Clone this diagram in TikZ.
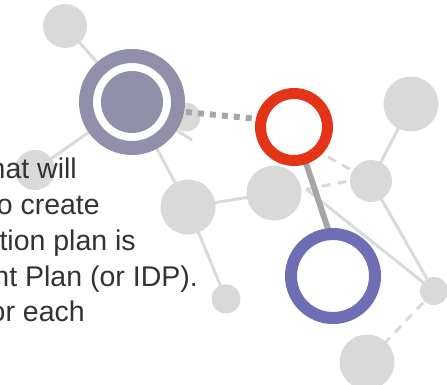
\documentclass[tikz,border=0pt]{standalone}
\usepackage{fontspec}
\setmainfont{Liberation Sans}
\pgfdeclarelayer{bg}
\pgfsetlayers{bg,main}
\definecolor{cgray}{HTML}{D9D9D9}
\definecolor{lgray}{HTML}{DADADA}
\definecolor{dgray}{HTML}{A6A6A6}
\definecolor{ringgray}{HTML}{9090AB}
\definecolor{ringred}{HTML}{E33417}
\definecolor{ringblue}{HTML}{6E6EB4}
\definecolor{txt}{HTML}{333333}
\begin{document}
\begin{tikzpicture}[x=1pt,y=-1pt,
  gc/.style={circle,fill=cgray,inner sep=0pt,minimum size=#1},
  thinline/.style={draw=lgray,line width=3pt},
  dashline/.style={draw=lgray,line width=3pt,dash pattern=on 9pt off 7pt},
  dotline/.style={draw=dgray,line width=6pt,dash pattern=on 6pt off 6pt},
  thickline/.style={draw=dgray,line width=6pt},
  ring/.style={circle,fill=white,inner sep=0pt,draw=#1},
  lbl/.style={anchor=base east,inner sep=0pt,text=txt,font=\fontsize{28.5}{34}\selectfont}]
\useasboundingbox (0,0) rectangle (447,384);
\clip (0,0) rectangle (447,384);
% gray nodes
\node[gc=44] (A) at (65,26) {};
\node[gc=40] (B) at (35,170) {};
\node[gc=55] (C) at (188,207) {};
\node[gc=29] (D) at (226,299) {};
\node[gc=55] (E) at (274,193) {};
\node[gc=55] (F) at (411,104) {};
\node[gc=42] (G) at (371,181) {};
\node[gc=28] (H) at (434,291) {};
\node[gc=55] (I) at (367,362) {};
\coordinate (P) at (306,189);
\coordinate (Q) at (192,140);
\coordinate (d1) at (186,112);
\coordinate (d2) at (258,119);
\coordinate (k1) at (305,160);
\coordinate (k2) at (329,232);
% rings
\node[ring=ringgray,line width=14pt,minimum size=92] (R1) at (132,102) {};
\node[circle,fill=ringgray,inner sep=0pt,minimum size=62] (R1c) at (R1) {};
\node[ring=ringred,line width=11pt,minimum size=67] (R2) at (294,127) {};
\node[ring=ringblue,line width=12pt,minimum size=84] (R3) at (333,276) {};
\begin{pgfonlayer}{bg}
  \draw[thinline] (A.center) -- (R1.center);
  \draw[thinline] (B.center) -- (R1.center);
  \draw[thinline] (R1.center) -- (C.center);
  \draw[thinline] (R1.center) -- (Q);
  \draw[thinline] (C.center) -- (D.center);
  \draw[thinline] (C.center) -- (E.center);
  \draw[thinline] (F.center) -- (G.center);
  \draw[thinline] (G.center) -- (H.center);
  \draw[thinline] (P) -- (H.center);
  \draw[dashline] (P) -- (G.west);
  \draw[dashline] (R2.center) ++(34,30) -- (G.center);
  \draw[dashline] (H.center) -- (I.center);
  \node[gc=29] (S) at (186,117) {};
  \draw[dotline] (d1) -- (d2);
  \draw[thickline] (k1) -- (k2);
\end{pgfonlayer}
% text
\node[lbl] (t1) at (77,178) {hat will};
\node[lbl] (t2) at (100,214) {o create};
\node[lbl] (t3) at (136,250) {tion plan is};
\node[lbl] (t4) at (198,286) {nt Plan (or IDP).};
\node[lbl] (t5) at (85,321) {or each};
\end{tikzpicture}
\end{document}
